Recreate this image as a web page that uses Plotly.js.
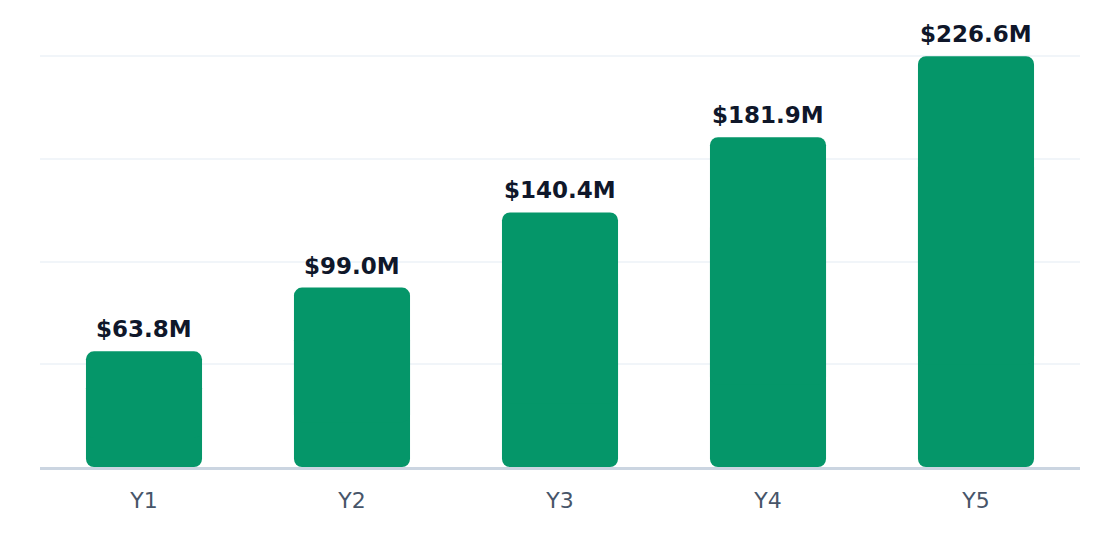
<!DOCTYPE html>
<html>
<head>
<meta charset="utf-8">
<script src="https://cdn.plot.ly/plotly-3.0.1.min.js"></script>
<style>
    html, body { margin: 0; padding: 0; background: #ffffff; }
    #chart { width: 1120px; height: 560px; }
</style>
</head>
<body>
<div id="chart"></div>
<script>
// data
const years = ['Y1', 'Y2', 'Y3', 'Y4', 'Y5']
const revenue = [63.8, 99.0, 140.4, 181.9, 226.6] // $M
const revenueLabels = ['$63.8M', '$99.0M', '$140.4M', '$181.9M', '$226.6M']

const green = '#059669'
const maxVal = Math.max(...revenue)

// each bar is drawn as two overlapping pieces so both ends get rounded corners
const lowerTop = revenue.map(v => v * 0.75)
const upperBase = revenue.map(v => v * 0.25)

const barCommon = {
    type: 'bar',
    x: years,
    marker: { color: green, cornerradius: 8, line: { width: 0 } },
    hoverinfo: 'skip',
    showlegend: false
}

// lower piece runs from 0.75*v down to 0, rounded at the bottom
const lowerPiece = Object.assign({}, barCommon, { base: lowerTop, y: lowerTop.map(v => -v) })
// upper piece runs from 0.25*v up to v, rounded at the top
const upperPiece = Object.assign({}, barCommon, { base: upperBase, y: revenue.map((v, i) => v - upperBase[i]) })

const labels = years.map((yr, i) => ({
    x: yr,
    y: revenue[i],
    text: revenueLabels[i],
    showarrow: false,
    yanchor: 'bottom',
    yshift: 7,
    font: { family: 'DejaVu Sans', size: 23, color: '#0f172a', weight: 'bold' }
}))

const layout = {
    width: 1120,
    height: 560,
    margin: { l: 40, r: 40, t: 55, b: 93 },
    paper_bgcolor: '#ffffff',
    plot_bgcolor: '#ffffff',
    barmode: 'overlay',
    bargap: 0.442,
    font: { family: 'DejaVu Sans' },
    xaxis: {
        type: 'category',
        showgrid: false,
        zeroline: false,
        showline: true,
        linecolor: '#cbd5e1',
        linewidth: 2.5,
        ticks: '',
        ticklabelstandoff: 12,
        tickfont: { family: 'DejaVu Sans', size: 22, color: '#475569' },
        fixedrange: true
    },
    yaxis: {
        range: [0, maxVal * 1.003],
        tickvals: [0.25, 0.5, 0.75, 1].map(f => f * maxVal),
        showticklabels: false,
        gridcolor: '#f1f5f9',
        gridwidth: 2,
        zeroline: false,
        fixedrange: true
    },
    annotations: labels
}

Plotly.newPlot('chart', [lowerPiece, upperPiece], layout, { displayModeBar: false, staticPlot: true })
</script>
</body>
</html>
